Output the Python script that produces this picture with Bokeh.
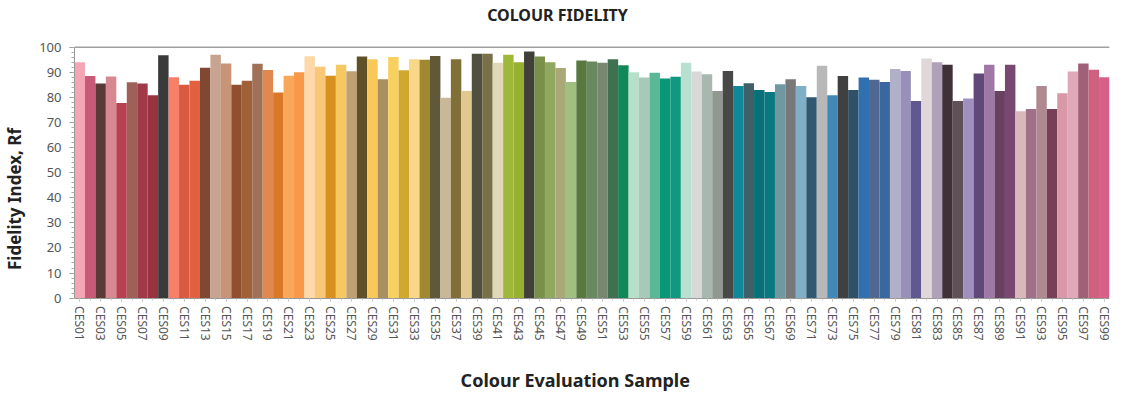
from bokeh.plotting import figure
from bokeh.models import ColumnDataSource, FixedTicker, SingleIntervalTicker, Span, Label, Range1d
from bokeh.embed import file_html
from bokeh.resources import INLINE

samples = ["CES%02d" % i for i in range(1, 100)]

rf = [94.0, 88.5, 85.5, 88.3, 77.8, 86.0, 85.5, 80.8, 96.8, 88.0,
      85.0, 86.6, 91.8, 97.0, 93.5, 85.0, 86.6, 93.4, 90.9, 81.9,
      88.6, 90.0, 96.4, 92.2, 88.6, 93.0, 90.4, 96.3, 95.2, 87.2,
      96.1, 90.8, 95.2, 95.0, 96.5, 79.8, 95.2, 82.5, 97.4, 97.4,
      93.8, 97.0, 94.0, 98.3, 96.3, 94.0, 91.7, 86.1, 94.7, 94.3,
      93.8, 95.2, 92.8, 90.0, 87.9, 89.8, 87.5, 88.2, 93.8, 90.3,
      89.2, 82.5, 90.5, 84.5, 85.6, 82.9, 82.1, 85.2, 87.2, 84.5,
      80.0, 92.6, 80.8, 88.5, 82.9, 87.9, 87.0, 86.1, 91.3, 90.5,
      78.5, 95.5, 94.0, 93.0, 78.5, 79.5, 89.5, 93.0, 82.5, 93.0,
      74.5, 75.4, 84.5, 75.4, 81.6, 90.3, 93.5, 91.0, 88.0]

colours = ["#F4A6B4", "#C85A78", "#5A3A36", "#D88890", "#B84050", "#A0605A", "#A03A48", "#983440", "#3A3A3A", "#F88068",
           "#D85A40", "#E06040", "#804830", "#C8A490", "#C89478", "#905030", "#A06038", "#A07058", "#E08850", "#D87828",
           "#F8A858", "#F89848", "#FED8A8", "#F8C878", "#D89020", "#F8C860", "#C0A070", "#605028", "#F8C858", "#A89060",
           "#F8D060", "#D0A830", "#F8D888", "#A08830", "#605838", "#C8B898", "#807038", "#E0C890", "#505040", "#787048",
           "#E0D8B8", "#A0B838", "#98B030", "#404038", "#789048", "#90A860", "#A8A878", "#A0C080", "#587840", "#688860",
           "#788870", "#407050", "#108858", "#B8E0C8", "#A8C8B8", "#58B898", "#089878", "#109880", "#B8E0D0", "#D8D8D8",
           "#A8B8B0", "#909890", "#484848", "#108898", "#406068", "#087078", "#0A7880", "#7098A0", "#787878", "#80B0C8",
           "#305870", "#B8B8B8", "#4088B8", "#404040", "#305068", "#3070B0", "#506890", "#3868A0", "#B0B0C8", "#9890B8",
           "#605890", "#E0D8D8", "#B0A0B8", "#403038", "#605058", "#A090C0", "#604878", "#A078A8", "#684060", "#784870",
           "#D8B8B8", "#A07088", "#B08890", "#784058", "#D898A8", "#E0A8B8", "#A06078", "#D06080", "#D86088"]

positions = list(range(1, len(samples) + 1))

src = ColumnDataSource(dict(x=positions, rf=rf, colour=colours, sample=samples))

p = figure(width=1113, height=393, output_backend="svg", toolbar_location=None,
           x_range=Range1d(0.5, 99.5), y_range=Range1d(-38, 117),
           min_border_left=66, min_border_right=4, min_border_top=4, min_border_bottom=0)

p.vbar(x="x", top="rf", width=1.0, fill_color="colour", line_color=None, source=src)

p.add_layout(Span(location=100, dimension="width", line_color="#A0A0A0", line_width=1.5))

p.add_layout(Label(x=46.7, y=112.7, text="COLOUR FIDELITY", text_align="center",
                   text_baseline="middle", text_font="Noto Sans", text_font_size="16px",
                   text_font_style="bold", text_color="#222222"))
p.add_layout(Label(x=48.4, y=-32.6, text="Colour Evaluation Sample", text_align="center",
                   text_baseline="middle", text_font="Noto Sans", text_font_size="18px",
                   text_font_style="bold", text_color="#222222"))

p.grid.grid_line_color = None
p.outline_line_color = None

ya = p.yaxis[0]
ya.bounds = (0, 100)
ya.ticker = SingleIntervalTicker(interval=10, num_minor_ticks=5)
ya.axis_label = "Fidelity Index, Rf"
ya.axis_label_text_font = "Noto Sans"
ya.axis_label_text_font_size = "17px"
ya.axis_label_text_font_style = "bold"
ya.axis_label_text_color = "#222222"
ya.axis_label_standoff = 10
ya.major_label_text_font = "Noto Sans"
ya.major_label_text_font_size = "13px"
ya.major_label_text_color = "#555555"
ya.major_label_standoff = 8
ya.axis_line_color = "#999999"
ya.major_tick_line_color = "#999999"
ya.minor_tick_line_color = "#AAAAAA"
ya.major_tick_out = 5
ya.major_tick_in = 0
ya.minor_tick_out = 3
ya.minor_tick_in = 0

xa = p.xaxis[0]
xa.fixed_location = 0
odd = positions[::2]
xa.ticker = FixedTicker(ticks=odd, minor_ticks=positions)
xa.major_label_overrides = {pos: samples[pos - 1] for pos in odd}
xa.major_label_orientation = "vertical"
xa.major_label_text_font = "Noto Sans"
xa.major_label_text_font_size = "12px"
xa.major_label_text_color = "#555555"
xa.major_label_standoff = 5
xa.axis_line_color = "#999999"
xa.major_tick_line_color = "#BBBBBB"
xa.minor_tick_line_color = "#CCCCCC"
xa.major_tick_out = 3
xa.major_tick_in = 0
xa.minor_tick_out = 2
xa.minor_tick_in = 0

open("out.html", "w").write(file_html(p, INLINE))
